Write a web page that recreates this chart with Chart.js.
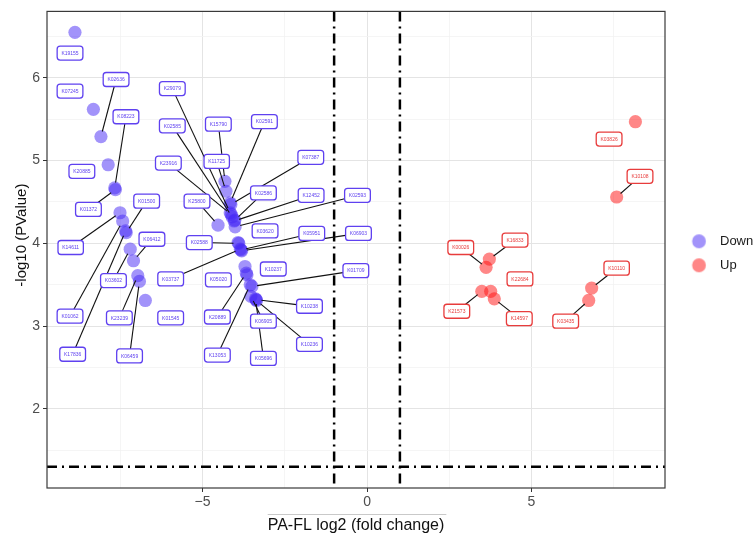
<!DOCTYPE html>
<html>
<head>
<meta charset="utf-8">
<script src="https://cdn.jsdelivr.net/npm/chart.js@4.4.1/dist/chart.umd.min.js"></script>
<style>
html,body{margin:0;padding:0;background:#ffffff;}
#box{width:756px;height:538px;}
</style>
</head>
<body>
<div id="box"><canvas id="chart" width="756" height="538"></canvas></div>
<script>
// ================= DATA =================
const seriesNames = ['Down', 'Up'];

const downGenes = ['K19155','K07245','K02636','K20885','K08223','K01372','K14611','K01062','K17836','K01500',
  'K03602','K06412','K23239','K06459','K01545','K15790','K11725','K02591','K07387','K29079',
  'K23916','K02585','K12452','K02586','K02593','K25800','K03620','K02588','K05951','K06903',
  'K03737','K10237','K05020','K20889','K01709','K13053','K06905','K10238','K10236','K05696'];
const downLog2FC = [-8.88,-8.32,-8.09,-7.87,-7.67,-7.65,-7.51,-7.43,-7.34,-7.32,
  -7.20,-7.10,-6.97,-6.92,-6.74,-4.32,-4.29,-4.16,-4.14,-4.16,
  -4.13,-4.10,-4.04,-4.02,-4.01,-4.53,-3.92,-3.90,-3.83,-3.81,
  -3.85,-3.71,-3.65,-3.67,-3.50,-3.55,-3.53,-3.37,-3.36,-3.39];
const downNegLog10P = [6.55,5.62,5.29,4.95,4.67,4.65,4.37,4.27,4.15,4.13,
  3.93,3.79,3.61,3.54,3.31,4.75,4.63,4.49,4.47,4.37,
  4.35,4.32,4.27,4.28,4.20,4.22,4.01,4.00,3.92,3.91,
  3.93,3.72,3.62,3.64,3.48,3.50,3.36,3.32,3.31,3.33];
// where the repelled labels sit, in data units
const downLabelFC = [-9.03,-9.03,-7.63,-8.67,-7.33,-8.47,-9.01,-9.03,-8.95,-6.70,
  -7.71,-6.54,-7.53,-7.22,-5.97,-4.52,-4.57,-3.12,-1.71,-5.92,
  -6.04,-5.92,-1.70,-3.15,-0.29,-5.17,-3.10,-5.10,-1.68,-0.26,
  -5.97,-2.85,-4.52,-4.55,-0.34,-4.55,-3.15,-1.75,-1.75,-3.15];
const downLabelP = [6.30,5.84,5.98,4.87,5.53,4.41,3.95,3.12,2.66,4.51,
  3.55,4.05,3.10,2.64,3.10,5.44,4.99,5.47,5.04,5.87,
  4.97,5.42,4.58,4.61,4.58,4.51,4.15,4.01,4.12,4.12,
  3.57,3.69,3.56,3.11,3.67,2.65,3.06,3.24,2.78,2.61];

const upGenes = ['K03826','K10108','K16833','K00026','K21573','K22684','K14597','K10110','K03435'];
const upLog2FC = [8.16,7.59,3.72,3.62,3.49,3.76,3.87,6.83,6.74];
const upNegLog10P = [5.47,4.56,3.81,3.71,3.42,3.42,3.33,3.46,3.31];
const upLabelFC = [7.36,8.30,4.50,2.85,2.73,4.65,4.63,7.59,6.04];
const upLabelP = [5.26,4.81,4.04,3.95,3.18,3.57,3.09,3.70,3.06];

const xMajorTicks = [-5, 0, 5];
const yMajorTicks = [2, 3, 4, 5, 6];
const fcThreshold = 1;
const pThreshold = 0.05;

const xTitle = 'PA-FL log2 (fold change)';
const yTitle = '-log10 (PValue)';

// ================= STYLE =================
const FONT = "'Liberation Sans', Arial, Helvetica, sans-serif";
const downFill = 'rgba(70,40,245,0.5)';
const upFill = 'rgba(255,15,15,0.5)';
const downEdge = 'rgb(95,65,240)';
const upEdge = 'rgb(232,60,60)';
const POINT_R = 6.6;

const legendFontSize = 13;
const legendPad = 11;
const legendBoxW = 37.5;
const legendKeyOffset = 4.25;
const legendTotal = 91;

function keyImage(color) {
  const c = document.createElement('canvas');
  const half = Math.ceil(Math.abs(legendKeyOffset) + POINT_R + 2);
  c.width = half * 2; c.height = 18;
  const g = c.getContext('2d');
  g.fillStyle = color;
  g.beginPath();
  g.arc(half + legendKeyOffset, 9, POINT_R + 0.3, 0, Math.PI * 2);
  g.fill();
  return c;
}

const isMajorX = v => xMajorTicks.some(t => Math.abs(t - v) < 1e-6);
const isMajorY = v => yMajorTicks.some(t => Math.abs(t - v) < 1e-6);

// ================= PLUGINS =================
const refLines = {
  id: 'refLines',
  beforeDatasetsDraw(chart) {
    const {ctx, chartArea: a, scales: {x, y}} = chart;
    ctx.save();
    ctx.beginPath(); ctx.rect(a.left, a.top, a.width, a.height); ctx.clip();
    ctx.strokeStyle = '#000';
    ctx.lineWidth = 2.5;
    ctx.setLineDash([10, 5, 2, 5]);
    for (const v of [-fcThreshold, fcThreshold]) {
      const px = x.getPixelForValue(v);
      ctx.beginPath(); ctx.moveTo(px, a.top); ctx.lineTo(px, a.bottom); ctx.stroke();
    }
    const py = y.getPixelForValue(-Math.log10(pThreshold));
    ctx.beginPath(); ctx.moveTo(a.left, py); ctx.lineTo(a.right, py); ctx.stroke();
    ctx.restore();
  }
};

function collectLabels(chart, genes, xs, ys, lxs, lys, edge) {
  const {ctx, scales: {x, y}} = chart;
  ctx.font = '5px ' + FONT;
  return genes.map((g, i) => {
    const tw = ctx.measureText(g).width;
    return {
      text: g, edge,
      px: x.getPixelForValue(xs[i]), py: y.getPixelForValue(ys[i]),
      lx: x.getPixelForValue(lxs[i]), ly: y.getPixelForValue(lys[i]),
      w: tw + 8.5, h: 14
    };
  });
}

const repelLabels = {
  id: 'repelLabels',
  afterDatasetsDraw(chart) {
    const {ctx, chartArea: a} = chart;
    const items = [
      ...collectLabels(chart, downGenes, downLog2FC, downNegLog10P, downLabelFC, downLabelP, downEdge),
      ...collectLabels(chart, upGenes, upLog2FC, upNegLog10P, upLabelFC, upLabelP, upEdge)
    ];
    ctx.save();
    ctx.beginPath(); ctx.rect(a.left, a.top, a.width, a.height); ctx.clip();
    // segments
    ctx.strokeStyle = '#111';
    ctx.lineWidth = 1.1;
    for (const it of items) {
      const dx = it.px - it.lx, dy = it.py - it.ly;
      const len = Math.hypot(dx, dy);
      if (len < 1) continue;
      const t = Math.min(dx === 0 ? Infinity : (it.w / 2) / Math.abs(dx), dy === 0 ? Infinity : (it.h / 2) / Math.abs(dy));
      if (t >= 1) continue;
      const ex = it.lx + dx * t, ey = it.ly + dy * t;
      const vis = len * (1 - t) - POINT_R;
      if (vis <= 12.3) continue;
      const ux = dx / len, uy = dy / len;
      const sx = it.px - ux * POINT_R * 0.8, sy = it.py - uy * POINT_R * 0.8;
      ctx.beginPath(); ctx.moveTo(sx, sy); ctx.lineTo(ex, ey); ctx.stroke();
    }
    // boxes
    for (const it of items) {
      const bx = it.lx - it.w / 2, by = it.ly - it.h / 2;
      ctx.beginPath();
      ctx.roundRect(bx, by, it.w, it.h, 3);
      ctx.fillStyle = '#ffffff';
      ctx.fill();
      ctx.lineWidth = 1.3;
      ctx.strokeStyle = it.edge;
      ctx.stroke();
      ctx.fillStyle = it.edge;
      ctx.font = '5px ' + FONT;
      ctx.textAlign = 'center';
      ctx.textBaseline = 'middle';
      ctx.fillText(it.text, it.lx, it.ly + 0.3);
    }
    ctx.restore();
  }
};

const panelFrame = {
  id: 'panelFrame',
  afterDraw(chart) {
    const {ctx, chartArea: a, scales: {x}} = chart;
    ctx.save();
    ctx.strokeStyle = '#3a3a3a';
    ctx.lineWidth = 1.2;
    ctx.strokeRect(a.left, a.top, a.right - a.left, a.bottom - a.top);
    // thin rule above the x title (as in the original picture)
    ctx.font = '16px ' + FONT;
    const tw = ctx.measureText(xTitle).width;
    const cx = (x.left + x.right) / 2;
    ctx.strokeStyle = '#c9c9c9';
    ctx.lineWidth = 1;
    ctx.beginPath(); ctx.moveTo(cx - tw / 2, 514.5); ctx.lineTo(cx + tw / 2 + 2, 514.5); ctx.stroke();
    ctx.restore();
  }
};

// ================= CHART =================
const chart = new Chart(document.getElementById('chart'), {
  type: 'scatter',
  data: {
    datasets: [
      {
        label: seriesNames[0],
        data: downLog2FC.map((v, i) => ({x: v, y: downNegLog10P[i]})),
        backgroundColor: downFill, borderWidth: 0, pointRadius: POINT_R, pointHoverRadius: POINT_R
      },
      {
        label: seriesNames[1],
        data: upLog2FC.map((v, i) => ({x: v, y: upNegLog10P[i]})),
        backgroundColor: upFill, borderWidth: 0, pointRadius: POINT_R, pointHoverRadius: POINT_R
      }
    ]
  },
  options: {
    responsive: false,
    devicePixelRatio: 1,
    animation: false,
    events: [],
    layout: {padding: {top: 7, left: 0, bottom: 0, right: 0}},
    plugins: {
      tooltip: {enabled: false},
      legend: {
        position: 'right',
        fullSize: false,
        align: 'center',
        maxWidth: legendTotal,
        title: {display: true, text: '', font: {size: 1}, padding: 3},
        labels: {
          usePointStyle: true,
          pointStyleWidth: legendBoxW,
          padding: legendPad,
          color: '#1a1a1a',
          font: {size: legendFontSize, family: FONT},
          generateLabels: () => [
            {text: seriesNames[0], pointStyle: keyImage(downFill), fillStyle: downFill, strokeStyle: 'rgba(0,0,0,0)', lineWidth: 0, hidden: false, datasetIndex: 0, fontColor: '#1a1a1a'},
            {text: seriesNames[1], pointStyle: keyImage(upFill), fillStyle: upFill, strokeStyle: 'rgba(0,0,0,0)', lineWidth: 0, hidden: false, datasetIndex: 1, fontColor: '#1a1a1a'}
          ]
        }
      }
    },
    scales: {
      x: {
        type: 'linear',
        min: -9.73, max: 9.06,
        afterFit(scale) { scale.height = 50; },
        border: {display: false},
        grid: {
          color: c => (c.tick && isMajorX(c.tick.value)) ? '#e4e4e4' : '#f2f2f2',
          lineWidth: c => (c.tick && isMajorX(c.tick.value)) ? 1 : 0.8,
          tickColor: c => (c.tick && isMajorX(c.tick.value)) ? '#333333' : 'rgba(0,0,0,0)',
          tickLength: 4,
          drawTicks: true
        },
        ticks: {
          stepSize: 2.5,
          includeBounds: false,
          autoSkip: false,
          maxRotation: 0,
          padding: 2,
          color: '#4d4d4d',
          font: {size: 14, family: FONT},
          callback: v => isMajorX(v) ? (v < 0 ? '\u2212' + Math.abs(v) : String(v)) : ''
        },
        title: {
          display: true,
          text: xTitle,
          color: '#111111',
          font: {size: 16, family: FONT},
          padding: {top: 0, bottom: 2.5}
        }
      },
      y: {
        type: 'linear',
        min: 1.044, max: 6.803,
        afterFit(scale) { scale.width = 47; },
        border: {display: false},
        grid: {
          color: c => (c.tick && isMajorY(c.tick.value)) ? '#e4e4e4' : '#f2f2f2',
          lineWidth: c => (c.tick && isMajorY(c.tick.value)) ? 1 : 0.8,
          tickColor: c => (c.tick && isMajorY(c.tick.value)) ? '#333333' : 'rgba(0,0,0,0)',
          tickLength: 4,
          drawTicks: true
        },
        ticks: {
          stepSize: 0.5,
          includeBounds: false,
          autoSkip: false,
          padding: 3,
          color: '#4d4d4d',
          font: {size: 14, family: FONT},
          callback: v => isMajorY(v) ? String(v) : ''
        },
        title: {
          display: true,
          text: '       ' + yTitle,
          color: '#111111',
          font: {size: 15, family: FONT},
          padding: {top: 13, bottom: 0}
        }
      }
    }
  },
  plugins: [refLines, repelLabels, panelFrame]
});
</script>
</body>
</html>
